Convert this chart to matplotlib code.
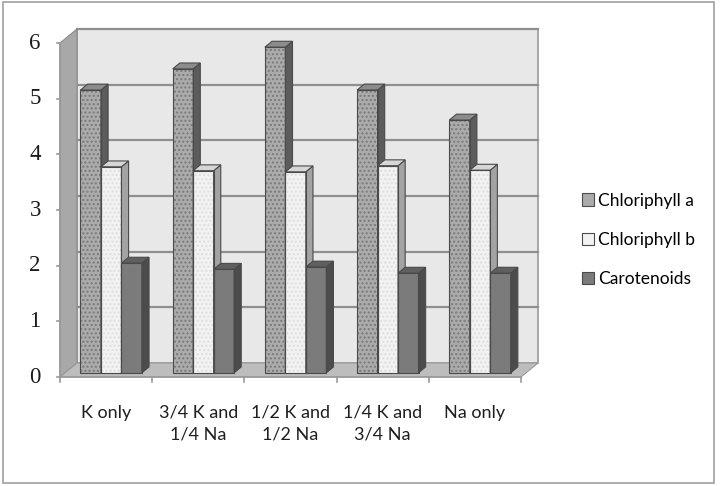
import matplotlib

matplotlib.use("Agg")
import matplotlib.pyplot as plt
from matplotlib.patches import Polygon, Rectangle

# --- data -------------------------------------------------------------------
categories = ["K only", "3/4 K and\n1/4 Na", "1/2 K and\n1/2 Na", "1/4 K and\n3/4 Na", "Na only"]
series_names = ["Chloriphyll a", "Chloriphyll b", "Carotenoids"]
chl_a = [5.08, 5.46, 5.85, 5.08, 4.54]
chl_b = [3.70, 3.63, 3.61, 3.72, 3.64]
carotenoids = [1.97, 1.86, 1.90, 1.79, 1.79]
y_ticks = [0, 1, 2, 3, 4, 5, 6]

# (front, side, top, hatch, hatch colour)
_STYLES = [
    ("#ababab", "#5c5c5c", "#8c8c8c", "....", "#7a7a7a"),
    ("#f2f2f2", "#a3a3a3", "#d6d6d6", "....", "#dedede"),
    ("#7b7b7b", "#4c4c4c", "#5f5f5f", None, None),
]
_EDGE = "#4a4a4a"
_SANS = ["Lato", "Liberation Sans", "DejaVu Sans"]

W, H = 721, 486
fig = plt.figure(figsize=(W / 100, H / 100), dpi=100)
fig.patch.set_facecolor("white")

# front plane of the 3-D box, in pixels: x 60..521, y(0)=377, y(6)=43
ax = fig.add_axes([60 / W, (H - 377) / H, 461 / W, 334 / H])
ax.set_xlim(-0.5, len(categories) - 0.5)
ax.set_ylim(0, 6)
ax.axis("off")

DX = 17 / 92.2   # depth offset in category units
DY = 14 / 55.67  # depth offset in value units
x0, x1 = ax.get_xlim()
ymax = ax.get_ylim()[1]

# --- walls and floor ------------------------------------------------------
ax.add_patch(Polygon([(x0 + DX, DY), (x1 + DX, DY), (x1 + DX, ymax + DY), (x0 + DX, ymax + DY)],
                     closed=True, facecolor="#e8e8e8", edgecolor="#9a9a9a", lw=1.2, clip_on=False, zorder=0))
ax.add_patch(Polygon([(x0, 0), (x0 + DX, DY), (x0 + DX, ymax + DY), (x0, ymax)],
                     closed=True, facecolor="#a8a8a8", edgecolor="#8a8a8a", lw=0.8, clip_on=False, zorder=1))
ax.add_patch(Polygon([(x0, 0), (x1, 0), (x1 + DX, DY), (x0 + DX, DY)],
                     closed=True, facecolor="#bdbdbd", edgecolor="#9a9a9a", lw=0.8, clip_on=False, zorder=1))
for t in y_ticks[1:]:
    ax.plot([x0 + DX, x1 + DX], [t + DY, t + DY], color="#8f8f8f", lw=1.6, clip_on=False, zorder=0.5)

# axes lines and ticks
ax.plot([x0, x1], [0, 0], color="#9a9a9a", lw=1.2, clip_on=False, zorder=2)
ax.plot([x0, x0], [0, ymax], color="#9a9a9a", lw=1.2, clip_on=False, zorder=2)
for b in range(len(categories) + 1):
    xb = x0 + b
    ax.plot([xb, xb], [0, -0.09], color="#9a9a9a", lw=1.2, clip_on=False)
for t in y_ticks:
    ax.plot([x0 - 0.035, x0], [t, t], color="#9a9a9a", lw=1.2, clip_on=False)
    ax.text(x0 - 0.27, t, str(t), ha="center", va="center", fontsize=16.5,
            family=["Liberation Serif", "DejaVu Serif"], color="#1a1a1a")

for i, lab in enumerate(categories):
    ax.text(i, -0.5, lab, ha="center", va="top", fontsize=13, linespacing=1.45,
            family=_SANS, color="#1f1f1f")

# --- 3-D bars ------------------------------------------------------------
bw = 0.222
f, bk = 0.3, 0.72
handles = []
for s, vals in enumerate([chl_a, chl_b, carotenoids]):
    front, side, top, hatch, hcol = _STYLES[s]
    xs = [i + (s - 1) * bw + f * DX for i in range(len(categories))]
    ax.bar(xs, vals, width=bw, bottom=f * DY, facecolor=front, edgecolor=hcol or front,
           hatch=hatch, linewidth=0, zorder=3, clip_on=False)
    ax.bar(xs, vals, width=bw, bottom=f * DY, facecolor="none", edgecolor=_EDGE,
           linewidth=0.8, zorder=3.1, clip_on=False)
    for xc, v in zip(xs, vals):
        xl, xr = xc - bw / 2, xc + bw / 2
        sx, sy = (bk - f) * DX, (bk - f) * DY
        ax.add_patch(Polygon([(xr, f * DY), (xr + sx, f * DY + sy), (xr + sx, v + f * DY + sy), (xr, v + f * DY)],
                             closed=True, facecolor=side, edgecolor=_EDGE, lw=0.8, zorder=3, clip_on=False))
        ax.add_patch(Polygon([(xl, v + f * DY), (xr, v + f * DY), (xr + sx, v + f * DY + sy), (xl + sx, v + f * DY + sy)],
                             closed=True, facecolor=top, edgecolor=_EDGE, lw=0.8, zorder=3, clip_on=False))
    handles.append(Rectangle((0, 0), 1, 1, facecolor=front, edgecolor=_EDGE, lw=0.8))

fig.legend(handles, series_names, loc="center left", bbox_to_anchor=(566 / W, 1 - 240 / H),
           frameon=False, handlelength=0.7, handleheight=0.7, handletextpad=0.25,
           labelspacing=1.35, prop={"family": _SANS, "size": 12.5})

# outer chart border
fig.patches.append(Rectangle((3 / W, 3 / H), 711 / W, 481 / H, transform=fig.transFigure,
                             facecolor="none", edgecolor="#a0a0a0", lw=1.2))

fig.savefig("out.png", dpi=100, facecolor="white")
